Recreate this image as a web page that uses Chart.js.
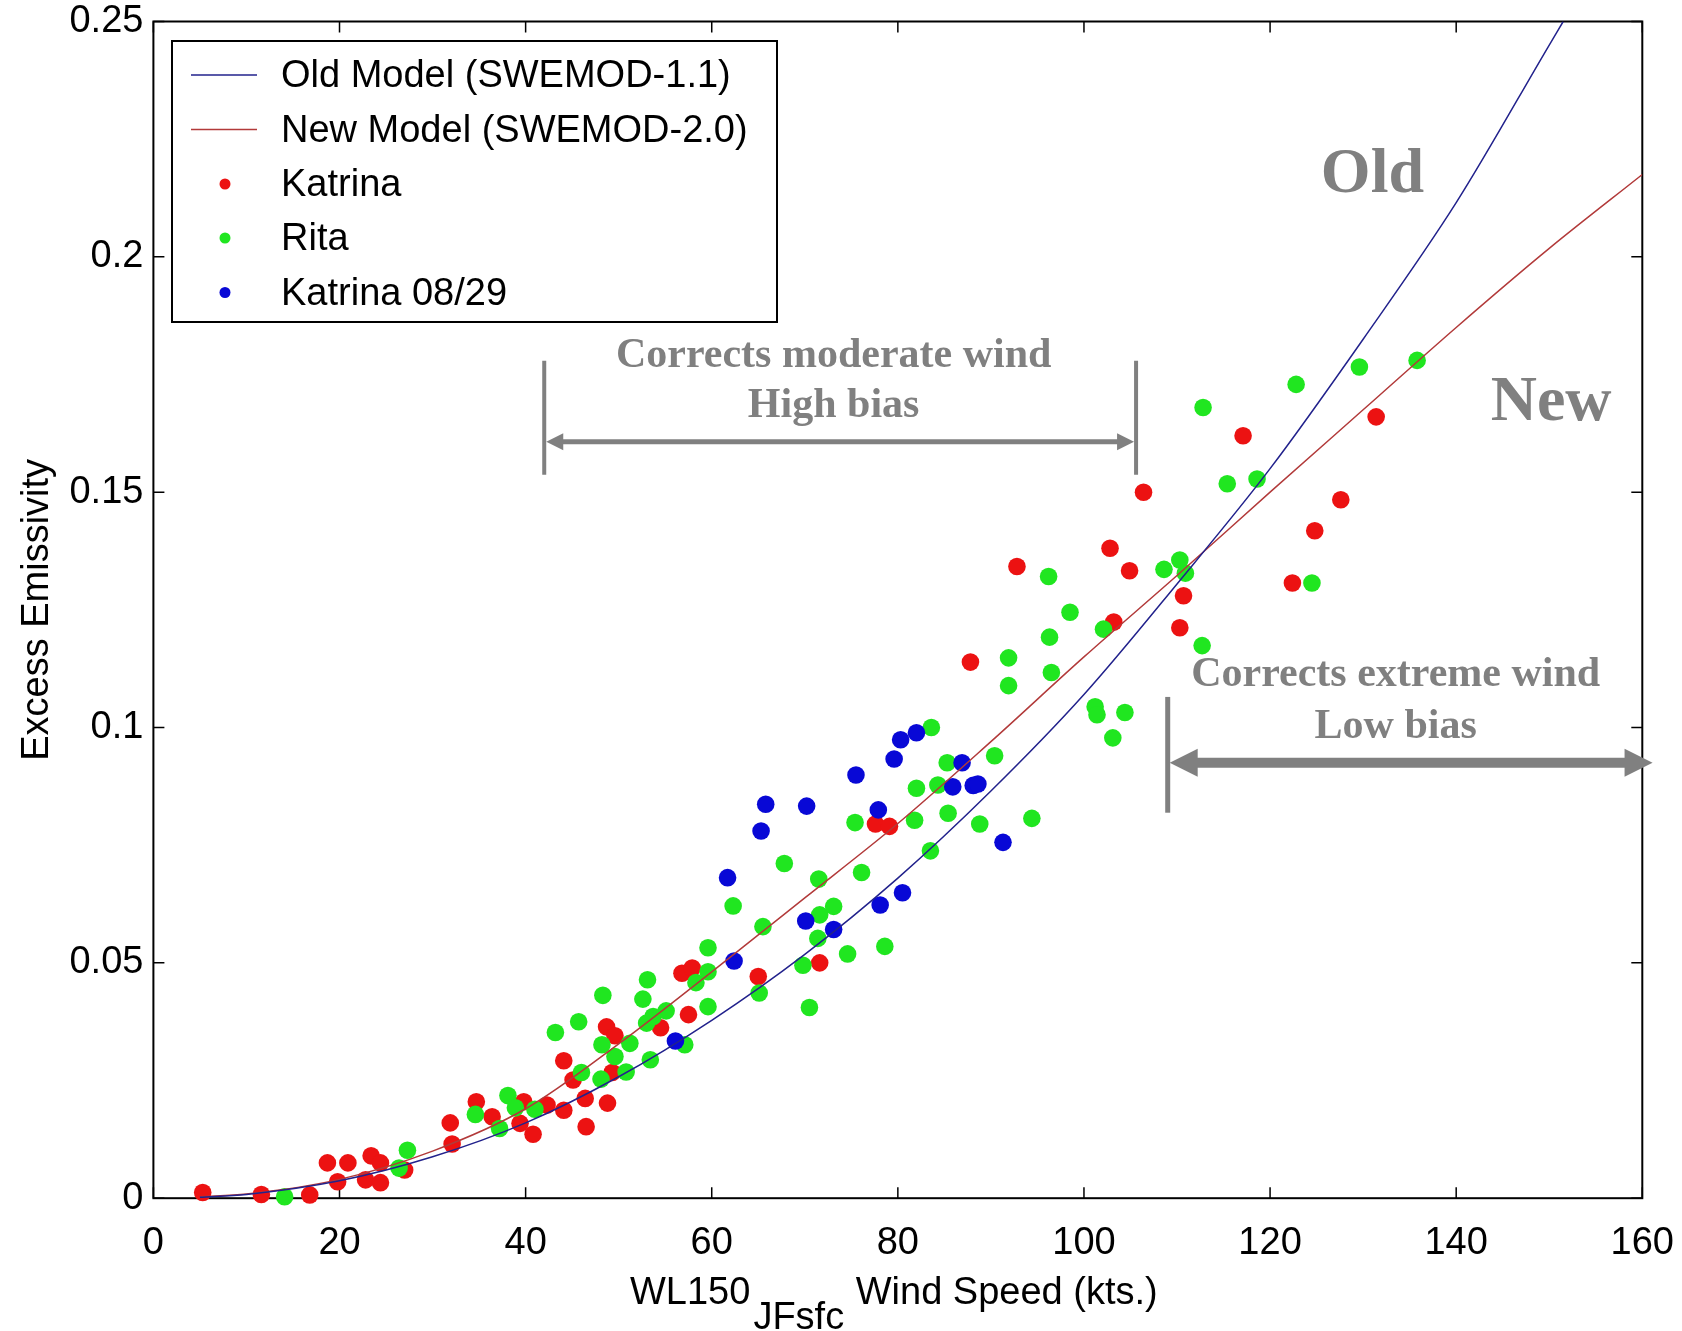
<!DOCTYPE html>
<html>
<head>
<meta charset="utf-8">
<script src="https://cdn.jsdelivr.net/npm/chart.js@4/dist/chart.umd.min.js"></script>
<style>
  html, body { margin: 0; padding: 0; background: #ffffff; }
  #wrap { width: 1682px; height: 1331px; }
</style>
</head>
<body>
<div id="wrap"><canvas id="c" width="1682" height="1331"></canvas></div>
<script>
// ---- Observations: WL150 JFsfc wind speed (kts) vs. excess emissivity ----
const katrinaSpeed = [5.3,11.6,16.8,18.7,19.8,20.9,22.8,23.4,24.4,24.4,27.0,31.9,32.1,34.7,36.4,39.4,39.8,40.8,42.3,44.1,44.1,45.1,46.4,46.5,48.7,48.8,49.3,49.6,54.5,56.8,57.9,57.5,65.0,71.6,77.6,79.1,87.8,92.8,102.8,103.2,104.9,106.4,110.7,110.3,117.1,122.4,124.8,127.6,131.4];
const katrinaEmis  = [0.0012,0.0008,0.0007,0.0075,0.0035,0.0075,0.0039,0.0090,0.0075,0.0033,0.0060,0.0160,0.0115,0.0205,0.0173,0.0159,0.0205,0.0136,0.0198,0.0187,0.0292,0.0251,0.0212,0.0152,0.0364,0.0202,0.0267,0.0345,0.0362,0.0478,0.0489,0.0390,0.0471,0.0500,0.0795,0.0790,0.1139,0.1342,0.1381,0.1224,0.1333,0.1500,0.1280,0.1212,0.1620,0.1307,0.1418,0.1484,0.1660];

const ritaSpeed = [14.1,26.4,27.3,34.6,37.2,38.1,38.9,41.0,43.2,45.7,46.0,48.1,48.2,48.3,49.6,50.8,51.2,53.4,52.6,53.1,53.0,53.7,55.1,57.1,58.3,59.6,59.6,59.6,62.3,65.1,65.5,67.8,69.8,70.5,71.4,71.6,71.5,73.1,74.6,75.4,76.1,78.6,81.8,82.0,83.5,83.6,84.3,85.3,85.4,88.8,90.4,91.9,91.9,94.4,96.2,96.3,96.5,98.5,101.2,101.4,102.1,103.1,104.4,108.6,110.3,110.9,112.7,112.8,115.4,118.6,122.8,124.5,129.6,135.8];
const ritaEmis  = [0.0003,0.0064,0.0102,0.0178,0.0148,0.0218,0.0192,0.0189,0.0352,0.0375,0.0267,0.0253,0.0326,0.0431,0.0301,0.0268,0.0329,0.0294,0.0423,0.0464,0.0372,0.0386,0.0398,0.0326,0.0458,0.0481,0.0532,0.0407,0.0621,0.0436,0.0577,0.0711,0.0495,0.0405,0.0552,0.0602,0.0678,0.0620,0.0519,0.0798,0.0692,0.0535,0.0803,0.0871,0.0738,0.1000,0.0878,0.0925,0.0818,0.0795,0.0940,0.1148,0.1089,0.0807,0.1321,0.1192,0.1117,0.1245,0.1044,0.1027,0.1209,0.0978,0.1032,0.1336,0.1356,0.1328,0.1174,0.1680,0.1518,0.1528,0.1729,0.1307,0.1766,0.1780];

const katrina0829Speed = [56.1,61.7,62.4,65.3,65.8,70.1,70.2,73.1,75.5,77.9,78.1,79.6,80.3,80.5,82.0,85.9,86.9,88.1,88.6,91.3];
const katrina0829Emis  = [0.0334,0.0681,0.0504,0.0780,0.0837,0.0589,0.0833,0.0571,0.0899,0.0825,0.0623,0.0933,0.0974,0.0649,0.0989,0.0874,0.0925,0.0877,0.0880,0.0756];

// ---- Model curves ----
const oldModelSpeed = [5,10,20,30,40,50,60,70,80,90,100,110,120,130,140,150,151.5];
const oldModelEmis  = [0.0002,0.0008,0.0037,0.0088,0.0160,0.0258,0.0378,0.0518,0.0680,0.0865,0.1070,0.1305,0.1550,0.1825,0.2115,0.2450,0.2500];
const newModelSpeed = [5,10,20,30,40,50,60,70,80,90,100,110,120,130,140,150,160];
const newModelEmis  = [0.0003,0.0009,0.0040,0.0100,0.0190,0.0328,0.0481,0.0638,0.0796,0.0970,0.1150,0.1323,0.1500,0.1675,0.1850,0.2018,0.2175];

// ---- Axis ticks and labels ----
const xTicks = [0,20,40,60,80,100,120,140,160];
const yTicks = [0,0.05,0.1,0.15,0.2,0.25];
const yTickLabels = ['0','0.05','0.1','0.15','0.2','0.25'];
const seriesNames = ['Old Model (SWEMOD-1.1)','New Model (SWEMOD-2.0)','Katrina','Rita','Katrina 08/29'];
const xTitleMain = 'WL150';
const xTitleSub = 'JFsfc';
const xTitleTail = ' Wind Speed (kts.)';
const yTitle = 'Excess Emissivity';
const noteTexts = ['Corrects moderate wind','High bias','Corrects extreme wind','Low bias','Old','New'];

const toPoints = (xs, ys) => xs.map((x, i) => ({ x, y: ys[i] }));

const SANS = '"Liberation Sans", Arial, Helvetica, sans-serif';
const SERIF = '"Liberation Serif", "Times New Roman", serif';
const COLORS = { old: '#22228c', neu: '#b23a3a', katrina: '#ec1212', rita: '#20e620', k0829: '#0808d6', note: '#808080' };

// Placement of the explanatory notes and arrows, in data units
const noteLayout = {
  moderate: { text1: [73.1, 0.1790], text2: [73.1, 0.1683], bars: [42.0, 105.6], barY: [0.1779, 0.1537], arrowY: 0.1607 },
  extreme:  { text1: [133.5, 0.1111], text2: [133.5, 0.1001], bar: 109.0, barY: [0.1065, 0.0819], arrowY: 0.0925, arrowEnd: 161.1 },
  oldLabel: [131.0, 0.2172],
  newLabel: [150.2, 0.1689]
};

function arrowHead(ctx, tipX, y, dir, len, half) {
  ctx.beginPath();
  ctx.moveTo(tipX, y);
  ctx.lineTo(tipX - dir * len, y - half);
  ctx.lineTo(tipX - dir * len, y + half);
  ctx.closePath();
  ctx.fill();
}

function doubleArrow(ctx, x1, x2, y, lw, len, half) {
  ctx.lineWidth = lw;
  ctx.beginPath();
  ctx.moveTo(x1 + len * 0.8, y);
  ctx.lineTo(x2 - len * 0.8, y);
  ctx.stroke();
  arrowHead(ctx, x1, y, -1, len, half);
  arrowHead(ctx, x2, y, 1, len, half);
}

// Fixed axis box sizes; no extra room reserved for overhanging tick labels
function fixBox(size, key) {
  return s => {
    s[key] = size;
    s.paddingTop = 0; s.paddingBottom = 0; s.paddingLeft = 0; s.paddingRight = 0;
  };
}

// Box frame with inward ticks on all four sides
const framePlugin = {
  id: 'framePlugin',
  beforeDatasetsDraw(chart) {
    const { ctx, chartArea: a, scales: { x, y } } = chart;
    ctx.save();
    ctx.strokeStyle = '#000';
    ctx.lineWidth = 2;
    ctx.strokeRect(a.left, a.top, a.right - a.left, a.bottom - a.top);
    ctx.lineWidth = 1.5;
    const t = 11;
    ctx.beginPath();
    xTicks.forEach(v => {
      const px = x.getPixelForValue(v);
      ctx.moveTo(px, a.bottom); ctx.lineTo(px, a.bottom - t);
      ctx.moveTo(px, a.top); ctx.lineTo(px, a.top + t);
    });
    yTicks.forEach(v => {
      const py = y.getPixelForValue(v);
      ctx.moveTo(a.left, py); ctx.lineTo(a.left + t, py);
      ctx.moveTo(a.right, py); ctx.lineTo(a.right - t, py);
    });
    ctx.stroke();
    ctx.restore();
  },
  afterDraw(chart) {
    const { ctx, chartArea: a, scales: { x, y } } = chart;
    const X = v => x.getPixelForValue(v);
    const Y = v => y.getPixelForValue(v);
    ctx.save();

    // x-axis title with subscript
    ctx.fillStyle = '#000';
    ctx.textBaseline = 'alphabetic';
    ctx.textAlign = 'left';
    ctx.font = '38px ' + SANS;
    const w1 = ctx.measureText(xTitleMain).width;
    const w2 = ctx.measureText(xTitleSub).width;
    const w3 = ctx.measureText(xTitleTail).width;
    const sx = (a.left + a.right) / 2 - (w1 + w2 + w3 + 4) / 2 - 4;
    ctx.fillText(xTitleMain, sx, 1304);
    ctx.fillText(xTitleSub, sx + w1 + 3, 1329);
    ctx.fillText(xTitleTail, sx + w1 + w2 + 4, 1304);

    // legend
    const lg = { left: 172, top: 41, right: 777, bottom: 322, rows: [77, 131.5, 186, 240, 294.5], sample: [191, 257], marker: 225, text: 281 };
    ctx.fillStyle = '#fff';
    ctx.fillRect(lg.left, lg.top, lg.right - lg.left, lg.bottom - lg.top);
    ctx.strokeStyle = '#000';
    ctx.lineWidth = 2;
    ctx.strokeRect(lg.left, lg.top, lg.right - lg.left, lg.bottom - lg.top);
    const legendColors = [COLORS.old, COLORS.neu, COLORS.katrina, COLORS.rita, COLORS.k0829];
    seriesNames.forEach((name, i) => {
      const ry = lg.rows[i];
      if (i < 2) {
        ctx.strokeStyle = legendColors[i];
        ctx.lineWidth = 1.5;
        ctx.beginPath(); ctx.moveTo(lg.sample[0], ry - 2); ctx.lineTo(lg.sample[1], ry - 2); ctx.stroke();
      } else {
        ctx.fillStyle = legendColors[i];
        ctx.beginPath(); ctx.arc(lg.marker, ry - 2, 5.5, 0, Math.PI * 2); ctx.fill();
      }
      ctx.fillStyle = '#000';
      ctx.font = '38px ' + SANS;
      ctx.textBaseline = 'middle';
      ctx.textAlign = 'left';
      ctx.fillText(name, lg.text, ry);
    });

    // explanatory notes
    ctx.fillStyle = COLORS.note;
    ctx.strokeStyle = COLORS.note;
    ctx.textAlign = 'center';
    ctx.textBaseline = 'middle';
    ctx.font = 'bold 42px ' + SERIF;
    const m = noteLayout.moderate, e = noteLayout.extreme;
    ctx.fillText(noteTexts[0], X(m.text1[0]), Y(m.text1[1]));
    ctx.fillText(noteTexts[1], X(m.text2[0]), Y(m.text2[1]));
    ctx.fillText(noteTexts[2], X(e.text1[0]), Y(e.text1[1]));
    ctx.fillText(noteTexts[3], X(e.text2[0]), Y(e.text2[1]));
    ctx.font = 'bold 64px ' + SERIF;
    ctx.fillText(noteTexts[4], X(noteLayout.oldLabel[0]), Y(noteLayout.oldLabel[1]));
    ctx.fillText(noteTexts[5], X(noteLayout.newLabel[0]), Y(noteLayout.newLabel[1]));

    // moderate-wind span
    ctx.lineWidth = 4;
    ctx.beginPath();
    m.bars.forEach(b => { ctx.moveTo(X(b), Y(m.barY[0])); ctx.lineTo(X(b), Y(m.barY[1])); });
    ctx.stroke();
    doubleArrow(ctx, X(m.bars[0]) + 2, X(m.bars[1]) - 2, Y(m.arrowY), 5, 17, 8.5);

    // extreme-wind span
    ctx.lineWidth = 5;
    ctx.beginPath();
    ctx.moveTo(X(e.bar), Y(e.barY[0])); ctx.lineTo(X(e.bar), Y(e.barY[1]));
    ctx.stroke();
    doubleArrow(ctx, X(e.bar) + 2, X(e.arrowEnd), Y(e.arrowY), 10, 28, 14);

    ctx.restore();
  }
};

const lineDefaults = { showLine: true, pointRadius: 0, borderWidth: 1.5, cubicInterpolationMode: 'monotone', fill: false };
const dotDefaults = { showLine: false, pointRadius: 8.8, pointHoverRadius: 8.8, borderWidth: 0, clip: false };

new Chart(document.getElementById('c'), {
  type: 'scatter',
  data: {
    datasets: [
      { ...lineDefaults, label: seriesNames[0], data: toPoints(oldModelSpeed, oldModelEmis), borderColor: COLORS.old, order: 0 },
      { ...lineDefaults, label: seriesNames[1], data: toPoints(newModelSpeed, newModelEmis), borderColor: COLORS.neu, order: 0 },
      { ...dotDefaults, label: seriesNames[2], data: toPoints(katrinaSpeed, katrinaEmis), backgroundColor: COLORS.katrina, pointBorderColor: COLORS.katrina, order: 3 },
      { ...dotDefaults, label: seriesNames[3], data: toPoints(ritaSpeed, ritaEmis), backgroundColor: COLORS.rita, pointBorderColor: COLORS.rita, order: 2 },
      { ...dotDefaults, label: seriesNames[4], data: toPoints(katrina0829Speed, katrina0829Emis), backgroundColor: COLORS.k0829, pointBorderColor: COLORS.k0829, order: 1 }
    ]
  },
  options: {
    responsive: false,
    animation: false,
    devicePixelRatio: 1,
    layout: { padding: { left: 0, top: 21.5, right: 39.7, bottom: 0 } },
    plugins: { legend: { display: false }, tooltip: { enabled: false } },
    scales: {
      x: {
        type: 'linear', min: 0, max: 160,
        afterBuildTicks: s => { s.ticks = xTicks.map(v => ({ value: v })); },
        afterFit: fixBox(132.8, 'height'),
        grid: { display: false, drawTicks: false },
        border: { display: false },
        ticks: { font: { size: 38, family: SANS }, color: '#000', padding: 23, maxRotation: 0, autoSkip: false },
        title: { display: false }
      },
      y: {
        type: 'linear', min: 0, max: 0.25,
        afterBuildTicks: s => { s.ticks = yTicks.map(v => ({ value: v })); },
        afterFit: fixBox(153.4, 'width'),
        grid: { display: false, drawTicks: false },
        border: { display: false },
        ticks: {
          font: { size: 38, family: SANS }, color: '#000', padding: 10, autoSkip: false,
          callback: v => yTickLabels[yTicks.findIndex(t => Math.abs(t - v) < 1e-9)]
        },
        title: { display: true, text: yTitle, font: { size: 38, family: SANS }, color: '#000', padding: { top: 15, bottom: 0 } }
      }
    }
  },
  plugins: [framePlugin]
});
</script>
</body>
</html>
